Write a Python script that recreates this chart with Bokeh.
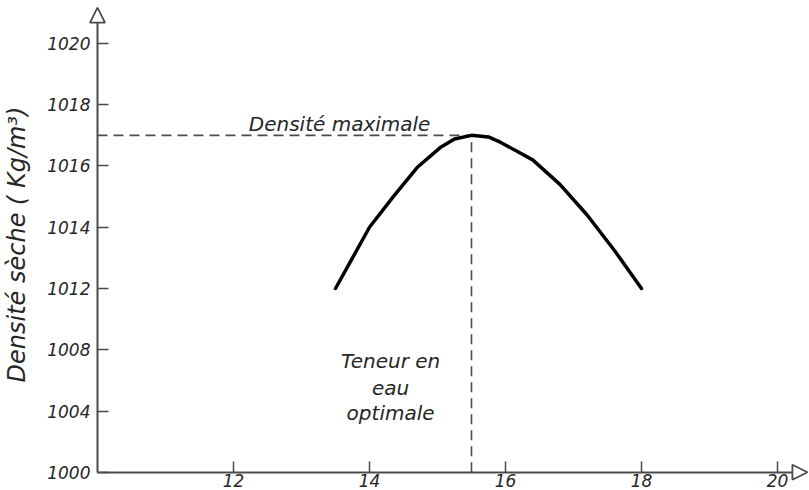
from bokeh.plotting import figure
from bokeh.models import Arrow, NormalHead, FixedTicker, Range1d, ColumnDataSource
from bokeh.core.properties import value
from bokeh.embed import file_html
from bokeh.resources import INLINE

# ---- data ----
water_content = [13.5, 13.75, 14.0, 14.35, 14.7, 15.04, 15.25, 15.5, 15.75, 15.93, 16.4, 16.8, 17.2, 17.6, 18.0]
dry_density = [1012.0, 1013.0, 1014.0, 1015.0, 1015.95, 1016.6, 1016.88, 1017.0, 1016.95, 1016.77,
               1016.2, 1015.4, 1014.4, 1013.25, 1012.0]

opt_water = 15.5
max_density = 1017.0

x_ticks = [12, 14, 16, 18, 20]
# broken y axis: lower labels are compressed (equal spacing, unequal values)
y_tick_pos = [1006, 1008, 1010, 1012, 1014, 1016, 1018, 1020]
y_tick_labels = ["1000", "1004", "1008", "1012", "1014", "1016", "1018", "1020"]

x_origin, x_tip = 10.0, 20.44
y_origin, y_tip = 1006.0, 1021.17

FONT = "DejaVu Sans"
AX = "#4a4a4a"
TXT = "#262626"

p = figure(width=809, height=490, output_backend="svg", toolbar_location=None,
           x_range=Range1d(8.5735, 20.4706), y_range=Range1d(1005.406, 1021.403),
           min_border_left=0, min_border_right=0, min_border_top=0, min_border_bottom=0)
p.outline_line_color = None
p.grid.visible = False
p.background_fill_color = "white"
p.border_fill_color = "white"

for ax in (p.xaxis[0], p.yaxis[0]):
    ax.axis_line_color = AX
    ax.axis_line_width = 2
    ax.major_tick_line_color = AX
    ax.major_tick_line_width = 1.5
    ax.major_tick_in = 11
    ax.major_tick_out = 0
    ax.minor_tick_line_color = None
    ax.major_label_text_font = FONT
    ax.major_label_text_font_style = "italic"
    ax.major_label_text_font_size = "17px"
    ax.major_label_text_color = TXT

p.xaxis.fixed_location = y_origin
p.xaxis.bounds = (x_origin, x_tip - 0.15)
p.xaxis.ticker = FixedTicker(ticks=x_ticks)
p.xaxis.major_label_standoff = 2

p.yaxis.fixed_location = x_origin
p.yaxis.bounds = (y_origin, y_tip - 0.3)
p.yaxis.ticker = FixedTicker(ticks=y_tick_pos)
p.yaxis.major_label_overrides = {pos: lab for pos, lab in zip(y_tick_pos, y_tick_labels)}
p.yaxis.major_label_standoff = 7
p.yaxis.axis_label = "Densité sèche ( Kg/m³)"
p.yaxis.axis_label_text_font = FONT
p.yaxis.axis_label_text_font_style = "italic"
p.yaxis.axis_label_text_font_size = "24px"
p.yaxis.axis_label_text_color = TXT
p.yaxis.axis_label_standoff = 13

# dashed guide lines
p.line([x_origin, opt_water], [max_density, max_density], line_color=AX, line_width=1.6, line_dash="10 6")
p.line([opt_water, opt_water], [y_origin, max_density], line_color=AX, line_width=1.6, line_dash="10 6")

# compaction curve
src = ColumnDataSource(dict(x=water_content, y=dry_density))
p.line("x", "y", source=src, line_color="black", line_width=3.5, line_cap="round", line_join="round")

# annotations
p.text(x=[13.56], y=[1017.36], text=["Densité maximale"], text_align="center",
       text_baseline="middle", text_font=value(FONT), text_font_style="italic",
       text_font_size="20px", text_color=TXT)
p.text(x=[14.31, 14.31, 14.31], y=[1009.65, 1008.74, 1007.92], text=["Teneur en", "eau", "optimale"],
       text_align="center", text_baseline="middle", text_font=value(FONT), text_font_style="italic",
       text_font_size="20px", text_color=TXT)

# axis arrow heads (open triangles), heads only
p.add_layout(Arrow(x_start=x_tip - 0.02, y_start=y_origin, x_end=x_tip, y_end=y_origin,
                   line_alpha=0, line_width=0.1,
                   end=NormalHead(size=15, fill_color="white", line_color=AX, line_width=1.8)))
p.add_layout(Arrow(x_start=x_origin, y_start=y_tip - 0.05, x_end=x_origin, y_end=y_tip,
                   line_alpha=0, line_width=0.1,
                   end=NormalHead(size=15, fill_color="white", line_color=AX, line_width=1.8)))

open("out.html", "w").write(file_html(p, INLINE))
